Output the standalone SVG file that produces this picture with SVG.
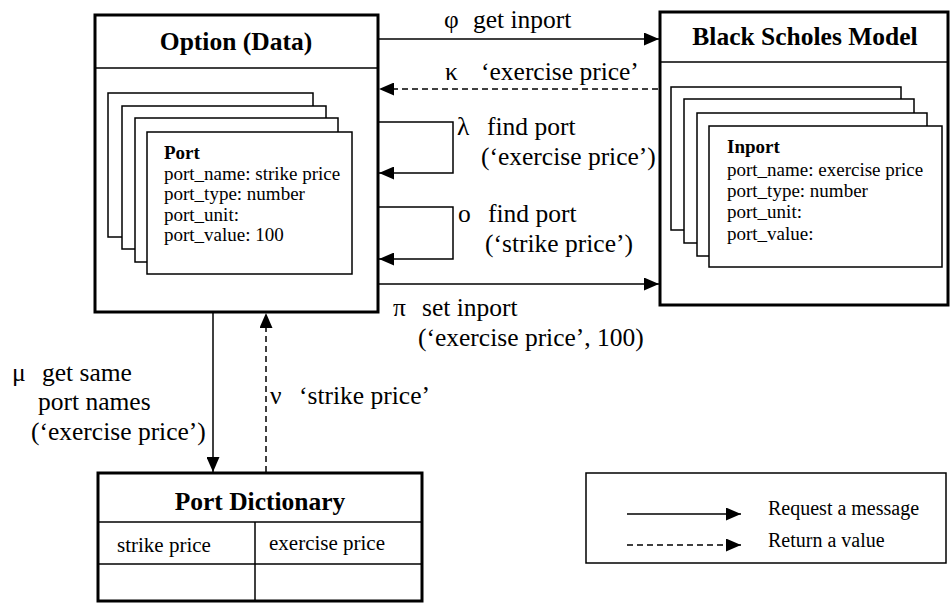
<svg xmlns="http://www.w3.org/2000/svg" width="951" height="606" viewBox="0 0 951 606">
<defs>
<marker id="ah" viewBox="0 0 15 13" refX="15" refY="6.5" markerWidth="15" markerHeight="13" markerUnits="userSpaceOnUse" orient="auto">
<path d="M0,0 L15,6.5 L0,13 Z" fill="#000"/>
</marker>
</defs>
<style>
text{font-family:"Liberation Serif","Times New Roman",serif;fill:#000}
.title{font-size:25.5px;font-weight:bold}
.card{font-size:19px}
.cardh{font-size:19px;font-weight:bold}
.dict{font-size:21px}
.leg{font-size:20px}
.lbl{font-size:25.5px}
.box{fill:#fff;stroke:#000;stroke-width:3}
.thin{fill:none;stroke:#000;stroke-width:1.5}
.cardr{fill:#fff;stroke:#000;stroke-width:1.5}
.req{fill:none;stroke:#000;stroke-width:1.5;marker-end:url(#ah)}
.ret{fill:none;stroke:#000;stroke-width:1.5;stroke-dasharray:6 4;marker-end:url(#ah)}
</style>
<rect width="951" height="606" fill="#fff"/>

<g id="option">
<rect class="box" x="95" y="15" width="283" height="297"/>
<line class="thin" x1="95" y1="68" x2="378" y2="68"/>
<text class="title" x="236" y="50" text-anchor="middle">Option (Data)</text>
<rect class="cardr" x="108" y="93" width="205" height="144"/>
<rect class="cardr" x="122" y="106" width="204" height="143"/>
<rect class="cardr" x="135" y="118" width="203" height="144"/>
<rect class="cardr" x="147" y="132" width="205" height="142"/>
<text class="cardh" x="164" y="159">Port</text>
<text class="card" x="164" y="180">port_name: strike price</text>
<text class="card" x="164" y="200">port_type: number</text>
<text class="card" x="164" y="221">port_unit:</text>
<text class="card" x="164" y="241">port_value: 100</text>
</g>

<g id="blackscholes">
<rect class="box" x="660" y="12" width="288" height="293"/>
<line class="thin" x1="660" y1="62" x2="948" y2="62"/>
<text class="title" x="805" y="45" text-anchor="middle">Black Scholes Model</text>
<rect class="cardr" x="671" y="87" width="230" height="143"/>
<rect class="cardr" x="684" y="99" width="230" height="144"/>
<rect class="cardr" x="697" y="113" width="230" height="143"/>
<rect class="cardr" x="709" y="126" width="233" height="141"/>
<text class="cardh" x="727" y="153">Inport</text>
<text class="card" x="727" y="176">port_name: exercise price</text>
<text class="card" x="727" y="197">port_type: number</text>
<text class="card" x="727" y="218">port_unit:</text>
<text class="card" x="727" y="240">port_value:</text>
</g>

<g id="portdictionary">
<rect class="box" x="98" y="473" width="324" height="128"/>
<line class="thin" x1="98" y1="522" x2="422" y2="522"/>
<line class="thin" x1="98" y1="564" x2="422" y2="564"/>
<line class="thin" x1="255" y1="522" x2="255" y2="601"/>
<text class="title" x="260" y="510" text-anchor="middle">Port Dictionary</text>
<text class="dict" x="117" y="552">strike price</text>
<text class="dict" x="269" y="550">exercise price</text>
</g>

<g id="legend">
<rect x="586" y="473" width="360" height="90" fill="#fff" stroke="#000" stroke-width="1.5"/>
<line class="req" x1="627" y1="514" x2="741" y2="514"/>
<line class="ret" x1="627" y1="545" x2="741" y2="545"/>
<text class="leg" x="768" y="515">Request a message</text>
<text class="leg" x="768" y="547">Return a value</text>
</g>

<g id="connectors">
<line class="req" x1="378" y1="39" x2="659" y2="39"/>
<line class="ret" x1="658" y1="89" x2="379" y2="89"/>
<polyline class="req" points="378,122 453,122 453,173 379,173"/>
<polyline class="req" points="378,207 453,207 453,259 379,259"/>
<line class="req" x1="378" y1="284" x2="659" y2="284"/>
<line class="req" x1="213" y1="312" x2="213" y2="472"/>
<line class="ret" x1="266" y1="472" x2="266" y2="313"/>
</g>

<g id="labels">
<text class="lbl" y="28"><tspan x="444">φ</tspan><tspan x="473">get inport</tspan></text>
<text class="lbl" y="80"><tspan x="445">κ</tspan><tspan x="481">‘exercise price’</tspan></text>
<text class="lbl" y="135"><tspan x="457">λ</tspan><tspan x="487">find port</tspan></text>
<text class="lbl" x="481" y="165">(‘exercise price’)</text>
<text class="lbl" y="222"><tspan x="458">o</tspan><tspan x="488">find port</tspan></text>
<text class="lbl" x="485" y="252">(‘strike price’)</text>
<text class="lbl" y="316"><tspan x="393">π</tspan><tspan x="422">set inport</tspan></text>
<text class="lbl" x="418" y="346">(‘exercise price’, 100)</text>
<text class="lbl" y="381"><tspan x="12">μ</tspan><tspan x="42">get same</tspan></text>
<text class="lbl" x="38" y="410">port names</text>
<text class="lbl" x="31" y="440">(‘exercise price’)</text>
<text class="lbl" y="404"><tspan x="270">ν</tspan><tspan x="299">‘strike price’</tspan></text>
</g>
</svg>
